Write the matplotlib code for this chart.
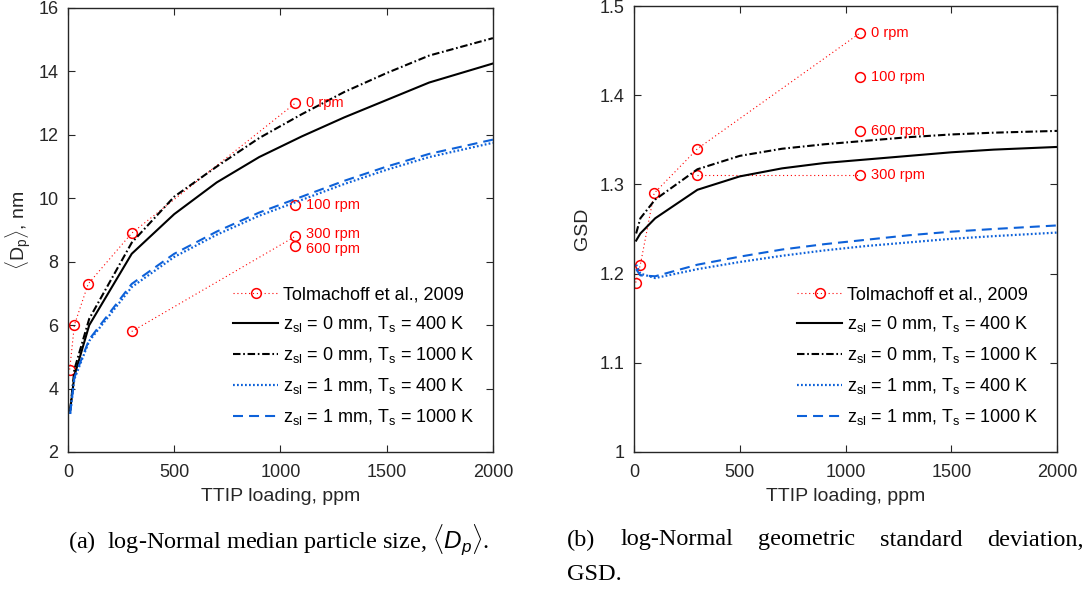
import numpy as np
import matplotlib
matplotlib.use('Agg')
import matplotlib.pyplot as plt

plt.rcParams['font.family'] = ['Liberation Sans', 'DejaVu Sans']
plt.rcParams['mathtext.fontset'] = 'custom'
plt.rcParams['mathtext.rm'] = 'Liberation Sans'
plt.rcParams['mathtext.it'] = 'Liberation Sans:italic'

# model loadings (ppm)
ppm = [10, 30, 100, 300, 500, 700, 900, 1100, 1300, 1500, 1700, 2000]

# (a) median particle size, nm
dp_z0_400 = [3.3, 4.4, 6.0, 8.25, 9.5, 10.5, 11.3, 11.95, 12.55, 13.1, 13.65, 14.25]
dp_z0_1000 = [3.3, 4.6, 6.2, 8.6, 10.05, 11.0, 11.9, 12.65, 13.35, 13.95, 14.5, 15.05]
dp_z1_400 = [3.2, 4.3, 5.5, 7.2, 8.15, 8.85, 9.45, 9.95, 10.45, 10.9, 11.3, 11.75]
dp_z1_1000 = [3.2, 4.35, 5.55, 7.3, 8.25, 8.95, 9.55, 10.05, 10.55, 11.0, 11.4, 11.85]

# (b) geometric standard deviation
gsd_z0_400 = [1.237, 1.245, 1.262, 1.294, 1.309, 1.318, 1.324, 1.328, 1.332, 1.336, 1.339, 1.342]
gsd_z0_1000 = [1.245, 1.262, 1.283, 1.317, 1.332, 1.340, 1.345, 1.349, 1.353, 1.356, 1.358, 1.360]
gsd_z1_400 = [1.210, 1.200, 1.195, 1.205, 1.213, 1.220, 1.226, 1.231, 1.235, 1.239, 1.242, 1.246]
gsd_z1_1000 = [1.205, 1.198, 1.197, 1.210, 1.219, 1.227, 1.233, 1.238, 1.243, 1.247, 1.250, 1.254]

# Tolmachoff et al., 2009
tol_ppm_0 = [8, 30, 95, 300, 1070]
tol_ppm_300 = [300, 1070]
tol_ppm_single = 1070
tol_dp_0 = [4.6, 6.0, 7.3, 8.9, 13.0]
tol_dp_300 = [5.8, 8.8]
tol_dp_100 = 9.8
tol_dp_600 = 8.5
tol_gsd_0 = [1.19, 1.21, 1.29, 1.34, 1.47]
tol_gsd_300 = [1.31, 1.31]
tol_gsd_100 = 1.42
tol_gsd_600 = 1.36

labels = ['Tolmachoff et al., 2009',
          r'z$_{\rm sl}$ = 0 mm, T$_{\rm s}$ = 400 K',
          r'z$_{\rm sl}$ = 0 mm, T$_{\rm s}$ = 1000 K',
          r'z$_{\rm sl}$ = 1 mm, T$_{\rm s}$ = 400 K',
          r'z$_{\rm sl}$ = 1 mm, T$_{\rm s}$ = 1000 K']

blue = (0.05, 0.38, 0.85)
grey = '#262626'


def panel(ax, t0, t300, t100, t600, m1, m2, m3, m4, rpm_order):
    red_kw = dict(color='red', ls=(0, (1, 2.5)), lw=0.8, marker='o', mfc='none', mec='red', ms=7, mew=1.1)
    h0, = ax.plot(tol_ppm_0, t0, **red_kw)
    ax.plot(tol_ppm_300, t300, **red_kw)
    ax.plot([tol_ppm_single], [t100], **red_kw)
    ax.plot([tol_ppm_single], [t600], **red_kw)
    h1, = ax.plot(ppm, m1, color='k', lw=1.5, ls='-')
    h2, = ax.plot(ppm, m2, color='k', lw=1.5, ls=(0, (3.6, 1.3, 0.8, 1.3)))
    h3, = ax.plot(ppm, m3, color=blue, lw=1.6, ls=(0, (0.8, 1.0)))
    h4, = ax.plot(ppm, m4, color=blue, lw=1.5, ls=(0, (4.8, 2.9)))
    for txt, yv, dy in rpm_order:
        ax.annotate(txt, (tol_ppm_single, yv), xytext=(8, dy), textcoords='offset points',
                    color='red', fontsize=10.5, va='center', ha='left')
    ax.legend([h0, h1, h2, h3, h4], labels, loc='lower right', frameon=False,
              fontsize=13, handlelength=2.5, handletextpad=0.25, labelspacing=0.6,
              bbox_to_anchor=(0.995, 0.02))
    ax.set_xlim(0, 2000)
    ax.set_xticks([0, 500, 1000, 1500, 2000])
    ax.tick_params(direction='in', top=True, right=True, labelsize=13, colors=grey, length=5)
    ax.tick_params(axis='x', pad=9)
    ax.tick_params(axis='y', pad=7)
    for s in ax.spines.values():
        s.set_color(grey)
        s.set_linewidth(1.0)
    ax.set_xlabel('TTIP loading, ppm', fontsize=14, color=grey, labelpad=5)


fig = plt.figure(figsize=(10.86, 5.97), dpi=100)
ax1 = fig.add_axes([0.0626, 0.2429, 0.3913, 0.7437])
ax2 = fig.add_axes([0.5838, 0.2429, 0.3895, 0.7470])

panel(ax1, tol_dp_0, tol_dp_300, tol_dp_100, tol_dp_600,
      dp_z0_400, dp_z0_1000, dp_z1_400, dp_z1_1000,
      [('0 rpm', tol_dp_0[-1], 0), ('100 rpm', tol_dp_100, 0),
       ('300 rpm', tol_dp_300[-1], 2), ('600 rpm', tol_dp_600, -2)])
ax1.set_ylim(2, 16)
ax1.set_yticks(np.arange(2, 17, 2))
ax1.set_ylabel(r'$\langle$D$_{\rm p}\rangle$, nm', fontsize=14, color=grey, labelpad=4)

panel(ax2, tol_gsd_0, tol_gsd_300, tol_gsd_100, tol_gsd_600,
      gsd_z0_400, gsd_z0_1000, gsd_z1_400, gsd_z1_1000,
      [('0 rpm', tol_gsd_0[-1], 0), ('100 rpm', tol_gsd_100, 0),
       ('300 rpm', tol_gsd_300[-1], 0), ('600 rpm', tol_gsd_600, 0)])
ax2.set_ylim(1, 1.5)
ax2.set_yticks([1, 1.1, 1.2, 1.3, 1.4, 1.5])
ax2.set_yticklabels(['1', '1.1', '1.2', '1.3', '1.4', '1.5'])
ax2.set_ylabel('GSD', fontsize=14, color=grey, labelpad=6)

# captions
cap_kw = dict(fontsize=17.5, family=['Liberation Serif', 'DejaVu Serif'], color='k', va='center')
fig.text(68 / 1086, 1 - 540 / 597, r'(a)  log-Normal median particle size, $\langle D_p\rangle$.', **cap_kw)

# justified first line of caption (b)
words = ['(b)', 'log-Normal', 'geometric', 'standard', 'deviation,']
x0, x1 = 567 / 1086, 1084 / 1086
renderer = fig.canvas.get_renderer()
texts = [fig.text(0, 1 - 540 / 597, w, **cap_kw) for w in words]
widths = [t.get_window_extent(renderer).width / fig.bbox.width for t in texts]
gap = (x1 - x0 - sum(widths)) / (len(words) - 1)
xp = x0
for t, w in zip(texts, widths):
    t.set_x(xp)
    xp += w + gap
fig.text(567 / 1086, 1 - 575 / 597, 'GSD.', **cap_kw)

fig.savefig('out.png', dpi=100)
